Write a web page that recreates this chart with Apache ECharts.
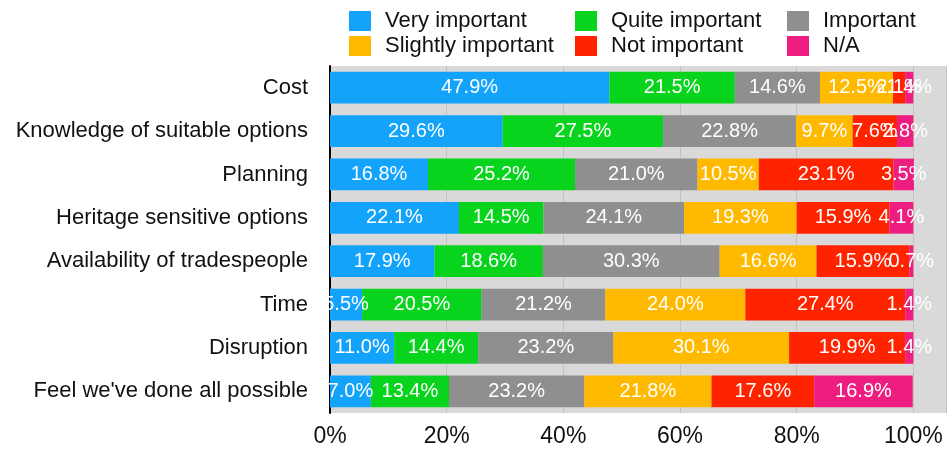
<!DOCTYPE html>
<html>
<head>
<meta charset="utf-8">
<script src="https://cdn.jsdelivr.net/npm/echarts@6/dist/echarts.min.js"></script>
<style>
html,body{margin:0;padding:0;background:#fff;}
#chart{width:951px;height:449px;}
</style>
</head>
<body>
<div id="chart"></div>
<script>
var categories = ['Cost','Knowledge of suitable options','Planning','Heritage sensitive options','Availability of tradespeople','Time','Disruption',"Feel we've done all possible"];
var seriesNames = ['Very important','Quite important','Important','Slightly important','Not important','N/A'];
var veryImportant   = [47.9, 29.6, 16.8, 22.1, 17.9, 5.5, 11.0, 7.0];
var quiteImportant  = [21.5, 27.5, 25.2, 14.5, 18.6, 20.5, 14.4, 13.4];
var important       = [14.6, 22.8, 21.0, 24.1, 30.3, 21.2, 23.2, 23.2];
var slightlyImportant = [12.5, 9.7, 10.5, 19.3, 16.6, 24.0, 30.1, 21.8];
var notImportant    = [2.1, 7.6, 23.1, 15.9, 15.9, 27.4, 19.9, 17.6];
var notApplicable   = [1.4, 2.8, 3.5, 4.1, 0.7, 1.4, 1.4, 16.9];
var xTickValues = [0, 20, 40, 60, 80, 100];

var seriesData = [veryImportant, quiteImportant, important, slightlyImportant, notImportant, notApplicable];
var colors = ['#14A3FB', '#08D41E', '#8F8F8F', '#FFBA00', '#FF2300', '#EE1E80'];
var legendPos = [
  {left: 349, top: 10}, {left: 575, top: 10}, {left: 787, top: 10},
  {left: 349, top: 35}, {left: 575, top: 35}, {left: 787, top: 35}
];

var fontFamily = '"Liberation Sans", Arial, Helvetica, sans-serif';

var legends = seriesNames.map(function(n, i){
  return {
    data: [n],
    left: legendPos[i].left,
    top: legendPos[i].top,
    padding: 0,
    icon: 'rect',
    itemWidth: 22,
    itemHeight: 20,
    selectedMode: false,
    textStyle: {fontSize: 22, color: '#111', fontFamily: fontFamily, padding: [0,0,0,9]}
  };
});

var series = seriesNames.map(function(n, i){
  return {
    name: n,
    type: 'bar',
    stack: 'total',
    data: seriesData[i],
    barCategoryGap: '27%',
    itemStyle: {color: colors[i]},
    label: {
      show: true,
      position: 'inside',
      color: '#fff',
      fontSize: 20,
      fontFamily: fontFamily,
      formatter: function(p){ return p.value.toFixed(1) + '%'; }
    },
    emphasis: {disabled: true}
  };
});

var chart = echarts.init(document.getElementById('chart'), null, {renderer: 'canvas'});
chart.setOption({
  animation: false,
  legend: legends,
  grid: {left: 330, right: 5, top: 66, bottom: 36, show: true, backgroundColor: '#D9D9D9', borderWidth: 0},
  xAxis: {
    type: 'value',
    min: 0,
    max: 105.6,
    interval: 20,
    axisLine: {show: false},
    axisTick: {show: false},
    splitLine: {show: true, lineStyle: {color: '#C2C2C2', width: 1}},
    axisLabel: {
      fontSize: 23, color: '#111', fontFamily: fontFamily, margin: 12,
      showMaxLabel: false,
      formatter: function(v){ return xTickValues.indexOf(v) >= 0 ? v + '%' : ''; }
    }
  },
  yAxis: {
    type: 'category',
    data: categories,
    inverse: true,
    axisLine: {show: true, lineStyle: {color: '#000', width: 2}},
    axisTick: {show: false},
    axisLabel: {fontSize: 22, color: '#111', fontFamily: fontFamily, margin: 22}
  },
  series: series
});
</script>
</body>
</html>
